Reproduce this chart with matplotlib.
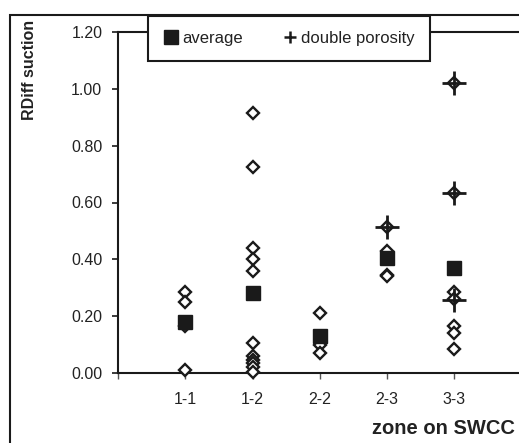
import numpy as np
import matplotlib
matplotlib.use("Agg")
import matplotlib.pyplot as plt
from matplotlib.lines import Line2D
from matplotlib.patches import Rectangle

plt.rcParams['font.family'] = ['Liberation Sans', 'DejaVu Sans']

zones = ['1-1', '1-2', '2-2', '2-3', '3-3']

# all RDiff values per zone (open diamonds)
rdiff_1_1 = [0.285, 0.25, 0.165, 0.01]
rdiff_1_2 = [0.915, 0.725, 0.44, 0.40, 0.36, 0.105, 0.06, 0.047, 0.035, 0.022, 0.005]
rdiff_2_2 = [0.21, 0.10, 0.07]
rdiff_2_3 = [0.515, 0.43, 0.345, 0.34]
rdiff_3_3 = [1.02, 0.635, 0.285, 0.26, 0.165, 0.14, 0.085]
rdiff_all = [rdiff_1_1, rdiff_1_2, rdiff_2_2, rdiff_2_3, rdiff_3_3]

# averages per zone
average = [0.18, 0.28, 0.13, 0.405, 0.37]

# double porosity points
dp_zones = ['2-3', '3-3', '3-3', '3-3']
dp_values = [0.515, 1.02, 0.635, 0.258]

W, H = 519, 443
dark = '#1a1a1a'
txt = '#222222'

fig = plt.figure(figsize=(W / 100, H / 100), dpi=100)
fig.patch.set_facecolor('white')

x0, y0 = 118, 373
step = 67.3
ax = fig.add_axes([x0 / W, (H - y0) / H, 6 * step / W, 341 / H])

pos = {z: i + 1 for i, z in enumerate(zones)}

for z, vals in zip(zones, rdiff_all):
    ax.plot([pos[z]] * len(vals), vals, ls='none', marker='D', markersize=5.8,
            markerfacecolor='white', markeredgecolor=dark, markeredgewidth=1.7,
            clip_on=False, zorder=3)

ax.plot([pos[z] for z in zones], average, ls='none', marker='s', markersize=10,
        color=dark, markeredgecolor=dark, clip_on=False, zorder=4)

ax.plot([pos[z] for z in dp_zones], dp_values, ls='none', marker='+', markersize=17,
        markeredgewidth=2.0, color=dark, clip_on=False, zorder=5)

ax.set_xlim(0, 6)
ax.set_ylim(0, 1.2)
ax.set_yticks(np.arange(0, 1.21, 0.2))
ax.set_yticklabels(['%.2f' % v for v in np.arange(0, 1.21, 0.2)])
ax.set_xticks([0] + [pos[z] for z in zones])
ax.set_xticklabels([''] + zones)

for s in ['left', 'bottom', 'top']:
    ax.spines[s].set_linewidth(1.5)
    ax.spines[s].set_color(dark)
ax.spines['right'].set_visible(False)

ax.tick_params(axis='y', direction='out', length=4.3, width=1.2, color=dark,
               pad=7, labelsize=11.5, labelcolor=txt)
ax.tick_params(axis='x', direction='out', length=4, width=1.0, color='#555555',
               pad=10, labelsize=11.5, labelcolor=txt)

ax.set_xlabel('zone on SWCC', fontsize=14.5, fontweight='bold', ha='right', va='center',
              color=txt)
ax.xaxis.set_label_coords((515 - x0) / (6 * step), (H - 428 - (H - y0)) / 341)
ax.set_ylabel('RDiff suction', fontsize=11.5, fontweight='bold', va='center', ha='center',
              color=txt)
ax.yaxis.set_label_coords((30 - x0) / (6 * step), (H - 70 - (H - y0)) / 341)

# outer chart frame (cut at right and bottom)
frame = Rectangle((10 / W, -0.1), 1.2, (H - 15) / H + 0.1, transform=fig.transFigure,
                  fill=False, lw=1.5, edgecolor=dark, clip_on=False, zorder=0)
fig.add_artist(frame)

handles = [
    Line2D([], [], ls='none', marker='s', markersize=10, color=dark),
    Line2D([], [], ls='none', marker='+', markersize=9, markeredgewidth=1.8, color=dark),
]
leg = fig.legend(handles, ['average', 'double porosity'], ncol=2,
                 loc='center', bbox_to_anchor=(148 / W, (H - 62) / H, 282 / W, 47 / H),
                 mode='expand', fontsize=12, frameon=True, fancybox=False,
                 borderpad=0.9, handlelength=0.9, handletextpad=0.25,
                 columnspacing=1.0, borderaxespad=0, labelcolor=txt)
leg.get_frame().set_edgecolor(dark)
leg.get_frame().set_linewidth(1.5)
leg.get_frame().set_facecolor('white')
leg.get_frame().set_alpha(1)
leg.set_zorder(10)

plt.savefig('out.png', dpi=100)
